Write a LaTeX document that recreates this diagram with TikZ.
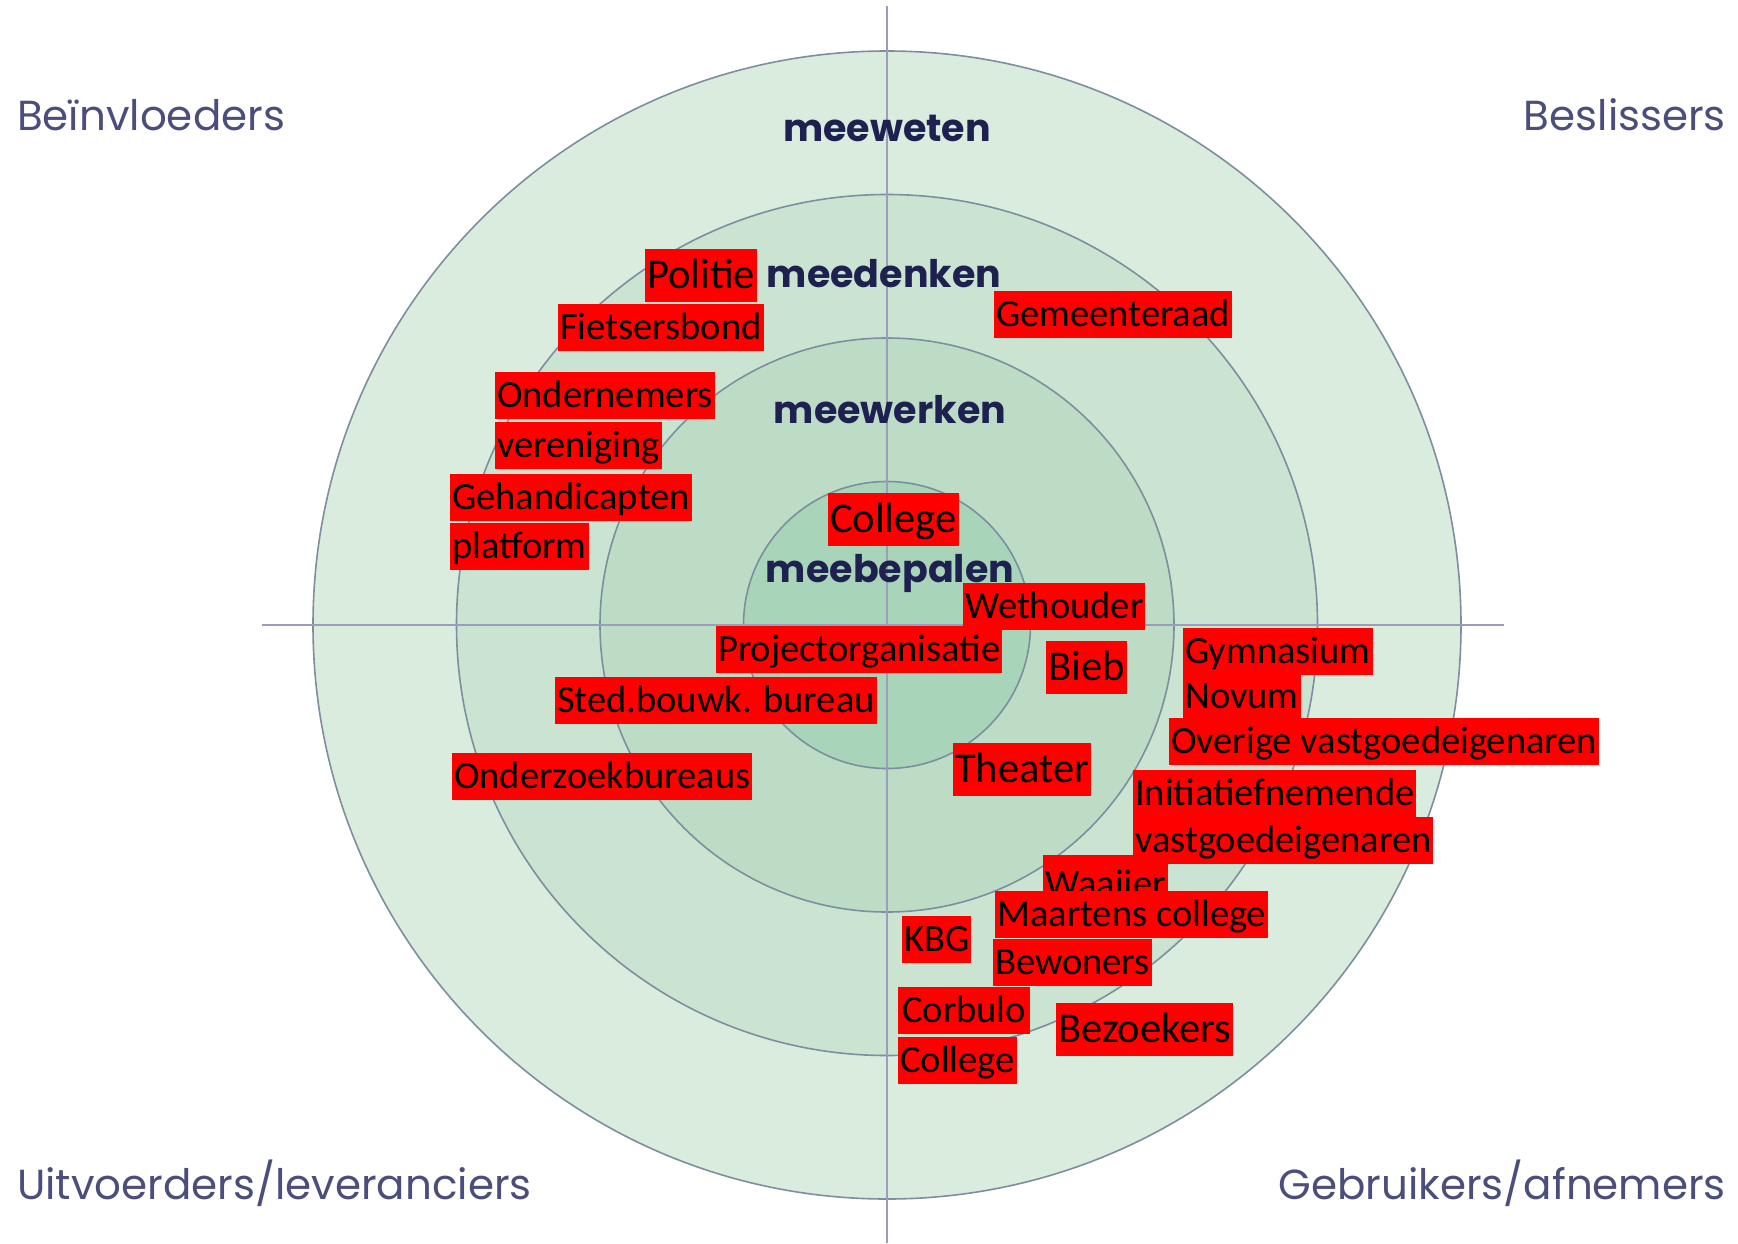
\documentclass[tikz,border=0pt]{standalone}
\usepackage{fontspec}
\newfontfamily\popfont{Poppins}
\newfontfamily\calfont{Carlito}
\definecolor{ringA}{RGB}{218,236,222}
\definecolor{ringB}{RGB}{203,228,210}
\definecolor{ringC}{RGB}{189,220,198}
\definecolor{ringD}{RGB}{168,213,185}
\definecolor{edgec}{RGB}{125,142,160}
\definecolor{axisc}{RGB}{155,157,185}
\definecolor{quadc}{RGB}{75,78,125}
\definecolor{ringtxt}{RGB}{30,33,80}
\definecolor{boxred}{RGB}{255,0,0}
\tikzset{
  disc/.style={draw=edgec, line width=1.6pt},
  axisline/.style={draw=axisc, line width=2.6pt},
  quadlabel/.style={font=\popfont\fontsize{42}{50}\selectfont, text=quadc, inner sep=0pt},
  ringlabel/.style={font=\popfont\bfseries\fontsize{38}{46}\selectfont, text=ringtxt, inner sep=0pt, anchor=base},
  redbox/.style={fill=boxred, text=black, font=\calfont\fontsize{38.5}{46}\selectfont,
    inner xsep=2pt, inner ysep=0pt, text height=35pt, text depth=12pt, anchor=north west},
  redbig/.style={redbox, font=\calfont\fontsize{42.5}{50}\selectfont, text height=39pt, text depth=14pt}
}
\begin{document}
\begin{tikzpicture}[x=1pt,y=-1pt]
\useasboundingbox (0,0) rectangle (1738,1243);
\fill[white] (0,0) rectangle (1738,1243);
\coordinate (c) at (887,625);
% rings
\path[disc, fill=ringA] (c) circle[radius=574pt];
\path[disc, fill=ringB] (c) circle[radius=430.5pt];
\path[disc, fill=ringC] (c) circle[radius=287pt];
\path[disc, fill=ringD] (c) circle[radius=143.5pt];
% axes
\coordinate (vt) at (887,6);
\coordinate (vb) at (887,1243);
\coordinate (hl) at (262,625);
\coordinate (hr) at (1504,625);
\draw[axisline] (vt) -- (vb);
\draw[axisline] (hl) -- (hr);
% quadrant labels
\node[quadlabel, anchor=base west] (q1) at (17,130) {Beïnvloeders};
\node[quadlabel, anchor=base east] (q2) at (1726,130) {Beslissers};
\node[quadlabel, anchor=base west] (q3) at (17,1199) {Uitvoerders/leveranciers};
\node[quadlabel, anchor=base east] (q4) at (1726,1199) {Gebruikers/afnemers};
% ring labels
\node[ringlabel] (r4) at (887,141) {meeweten};
\node[ringlabel] (r3) at (884,287) {meedenken};
\node[ringlabel] (r2) at (890,423) {meewerken};
\node[ringlabel] (r1) at (890,582) {meebepalen};
% stakeholders
\node[redbig] (politie) at (645,249) {Politie};
\node[redbox] (fiets) at (558,304) {Fietsersbond};
\node[redbox] (ondern) at (495,372) {Ondernemers};
\node[redbox] (vereni) at (495,422) {vereniging};
\node[redbox] (gehand) at (450,474) {Gehandicapten};
\node[redbox] (platf) at (450,523) {platform};
\node[redbox] (gemeen) at (994,291) {Gemeenteraad};
\node[redbig] (college) at (828,493) {College};
\node[redbox] (wethou) at (963,583) {Wethouder};
\node[redbox] (projorg) at (716,626) {Projectorganisatie};
\node[redbig] (bieb) at (1046,641) {Bieb};
\node[redbox] (sted) at (555,677) {Sted.bouwk. bureau};
\node[redbox] (gymn) at (1183,628) {Gymnasium};
\node[redbox] (novum) at (1183,673) {Novum};
\node[redbox] (overige) at (1169,718) {Overige vastgoedeigenaren};
\node[redbox] (onderz) at (452,753) {Onderzoekbureaus};
\node[redbig] (theater) at (953,743) {Theater};
\node[redbox] (initia) at (1133,770) {Initiatiefnemende};
\node[redbox] (vastg) at (1133,817) {vastgoedeigenaren};
\node[redbox, text height=41pt, text depth=8pt] (waaijer) at (1043,855) {Waaijer};
\node[redbox] (maartens) at (995,891) {Maartens college};
\node[redbox] (kbg) at (902,916) {KBG};
\node[redbox] (bewon) at (993,939) {Bewoners};
\node[redbox, inner xsep=4pt] (corbulo) at (898,987) {Corbulo};
\node[redbox] (college2) at (898,1037) {College};
\node[redbig] (bezoek) at (1056,1003) {Bezoekers};
\end{tikzpicture}
\end{document}
